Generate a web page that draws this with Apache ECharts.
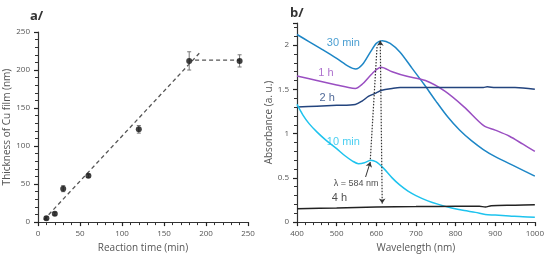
<!DOCTYPE html>
<html>
<head>
<meta charset="UTF-8">
<script src="https://cdn.jsdelivr.net/npm/echarts@6/dist/echarts.min.js"></script>
<style>
  html, body { margin: 0; padding: 0; background: #fff; }
  #main { width: 547px; height: 258px; }
</style>
</head>
<body>
<div id="main"></div>
<script>
// panel a/ : film thickness vs reaction time
var times = [10, 20, 30, 60, 120, 180, 240];
var thickness = [5, 11, 44, 61, 122, 212, 212];
var thickErr = [2, 2, 4, 2, 5, 12, 8];
var fitRise = [[7, 3], [192, 222]];
var fitPlateau = [[187, 213], [240, 213]];

// panel b/ : absorbance spectra
var spec30min = [[400,2.12],[430,2.04],[460,1.96],[500,1.85],[530,1.76],[548,1.73],[565,1.78],[585,1.92],[600,2.02],[615,2.05],[635,2.02],[660,1.92],[690,1.74],[720,1.56],[750,1.37],[780,1.19],[810,1.04],[840,0.92],[870,0.82],[900,0.74],[950,0.63],[1000,0.52]];
var spec1h = [[400,1.65],[450,1.6],[500,1.55],[530,1.52],[547,1.51],[565,1.56],[590,1.68],[612,1.75],[640,1.7],[675,1.65],[724,1.6],[773,1.48],[822,1.3],[871,1.09],[900,1.04],[936,0.97],[970,0.88],[1000,0.8]];
var spec2h = [[400,1.3],[450,1.31],[500,1.32],[547,1.33],[565,1.37],[580,1.42],[600,1.46],[614,1.49],[640,1.51],[660,1.52],[700,1.52],[760,1.52],[820,1.52],[870,1.52],[880,1.53],[900,1.52],[950,1.52],[1000,1.5]];
var spec10min = [[400,1.33],[415,1.21],[431,1.11],[450,1.02],[472,0.93],[500,0.83],[521,0.75],[540,0.69],[555,0.66],[570,0.67],[586,0.7],[600,0.68],[618,0.61],[640,0.5],[659,0.42],[680,0.35],[700,0.3],[730,0.24],[757,0.2],[790,0.16],[822,0.13],[850,0.11],[875,0.085],[900,0.08],[936,0.07],[970,0.06],[1000,0.055]];
var spec4h = [[400,0.15],[500,0.16],[600,0.17],[700,0.175],[800,0.18],[860,0.18],[875,0.17],[890,0.185],[950,0.19],[1000,0.195]];

var seriesNames = ['30 min', '1 h', '2 h', '10 min', '4 h'];
var seriesColors = ['#1d86c6', '#9a4fc2', '#23447e', '#1ec3ee', '#222222'];
var labelAt = [[517, 2.02], [473, 1.68], [476, 1.40], [517, 0.90], [507, 0.27]];
var peakNote = '\u03bb = 584 nm';
var peakNoteAt = [549, 0.44];
var arrowVertical = [[610, 2.05], [615, 0.21]];
var dottedLink = [[585, 0.71], [602, 1.99]];
var noteArrow = [[573, 0.51], [585, 0.68]];

var font = 'Open Sans';
var grey = '#555';

var chart = echarts.init(document.getElementById('main'));

function errorBars(params, api) {
  var x = api.value(0), y = api.value(1), e = api.value(2);
  var top = api.coord([x, y + e]);
  var bot = api.coord([x, y - e]);
  var style = { stroke: '#777', lineWidth: 1 };
  return {
    type: 'group',
    children: [
      { type: 'line', shape: { x1: top[0], y1: top[1], x2: bot[0], y2: bot[1] }, style: style },
      { type: 'line', shape: { x1: top[0] - 2, y1: top[1], x2: top[0] + 2, y2: top[1] }, style: style },
      { type: 'line', shape: { x1: bot[0] - 2, y1: bot[1], x2: bot[0] + 2, y2: bot[1] }, style: style }
    ]
  };
}

var pointData = times.map(function (t, i) { return [t, thickness[i]]; });
var errData = times.map(function (t, i) { return [t, thickness[i], thickErr[i]]; });

function axis(extra) {
  var base = {
    axisLine: { show: true, lineStyle: { color: '#333', width: 1.2 } },
    axisTick: { show: true, length: 4, lineStyle: { color: '#222', width: 1.2 } },
    minorTick: { show: true, splitNumber: 5, length: 3, lineStyle: { color: '#333', width: 1 } },
    axisLabel: { color: grey, fontFamily: font, fontSize: 8, formatter: function (v) { return String(v); } },
    splitLine: { show: false },
    nameTextStyle: { color: grey, fontFamily: font, fontSize: 10 }
  };
  return Object.assign(base, extra);
}

var specs = [spec30min, spec1h, spec2h, spec10min, spec4h];

var spectraSeries = specs.map(function (d, i) {
  return {
    type: 'line', name: seriesNames[i], xAxisIndex: 1, yAxisIndex: 1,
    data: d, smooth: 0.3, showSymbol: false,
    lineStyle: { color: seriesColors[i], width: 1.5 },
    z: 3
  };
});

var option = {
  animation: false,
  backgroundColor: '#fff',
  title: [
    { text: 'a/', left: 25, top: 5, textStyle: { fontFamily: font, fontSize: 13, fontWeight: 'bold', color: '#333' } },
    { text: 'b/', left: 285, top: 2, textStyle: { fontFamily: font, fontSize: 13, fontWeight: 'bold', color: '#333' } }
  ],
  grid: [
    { left: 38, right: 299, top: 32, bottom: 34 },
    { left: 297, right: 4, top: 23, bottom: 29 }
  ],
  xAxis: [
    axis({ gridIndex: 0, type: 'value', min: 0, max: 250, interval: 50,
      name: 'Reaction time (min)', nameLocation: 'middle', nameGap: 16 }),
    axis({ gridIndex: 1, type: 'value', min: 400, max: 1000, interval: 100,
      name: 'Wavelength (nm)', nameLocation: 'middle', nameGap: 15 })
  ],
  yAxis: [
    axis({ gridIndex: 0, type: 'value', min: 0, max: 250, interval: 50,
      name: 'Thickness of Cu film (nm)', nameLocation: 'middle', nameGap: 22 }),
    axis({ gridIndex: 1, type: 'value', min: 0, max: 2.25, interval: 0.5,
      name: 'Absorbance (a. u.)', nameLocation: 'middle', nameGap: 16,
      axisLabel: { color: grey, fontFamily: font, fontSize: 8, showMaxLabel: false,
        formatter: function (v) { return v > 2.2 ? '' : String(v); } } })
  ],
  series: [
    { type: 'line', xAxisIndex: 0, yAxisIndex: 0, data: fitRise, showSymbol: false,
      lineStyle: { color: '#555', width: 1.3, type: [4, 3] } },
    { type: 'line', xAxisIndex: 0, yAxisIndex: 0, data: fitPlateau, showSymbol: false,
      lineStyle: { color: '#555', width: 1.3, type: [4, 3] } },
    { type: 'custom', xAxisIndex: 0, yAxisIndex: 0, data: errData, renderItem: errorBars, z: 4 },
    { type: 'scatter', xAxisIndex: 0, yAxisIndex: 0, data: pointData, symbol: 'circle', symbolSize: 6,
      itemStyle: { color: '#111' }, z: 5 }
  ].concat(spectraSeries).concat([
    {
      type: 'scatter', xAxisIndex: 1, yAxisIndex: 1, symbolSize: 0, silent: true, z: 6,
      data: labelAt.map(function (p, i) {
        return { value: p, label: { show: true, position: 'inside', formatter: seriesNames[i],
          color: seriesColors[i], fontFamily: 'Liberation Sans', fontSize: 11 } };
      }).concat([{ value: peakNoteAt, label: { show: true, position: 'inside', formatter: peakNote,
          color: '#222', fontFamily: 'Liberation Sans', fontSize: 9 } }]),
      markLine: {
        silent: true, symbolSize: 5, label: { show: false },
        data: [
          [{ coord: arrowVertical[0], symbol: 'arrow', lineStyle: { color: '#333', type: [1.5, 1.5], width: 1.2 } },
           { coord: arrowVertical[1], symbol: 'arrow' }],
          [{ coord: dottedLink[0], symbol: 'none', lineStyle: { color: '#333', type: [1.5, 1.5], width: 1.2 } },
           { coord: dottedLink[1], symbol: 'none' }],
          [{ coord: noteArrow[0], symbol: 'none', lineStyle: { color: '#333', type: 'solid', width: 1 } },
           { coord: noteArrow[1], symbol: 'arrow' }]
        ]
      }
    }
  ])
};

chart.setOption(option);
</script>
</body>
</html>
